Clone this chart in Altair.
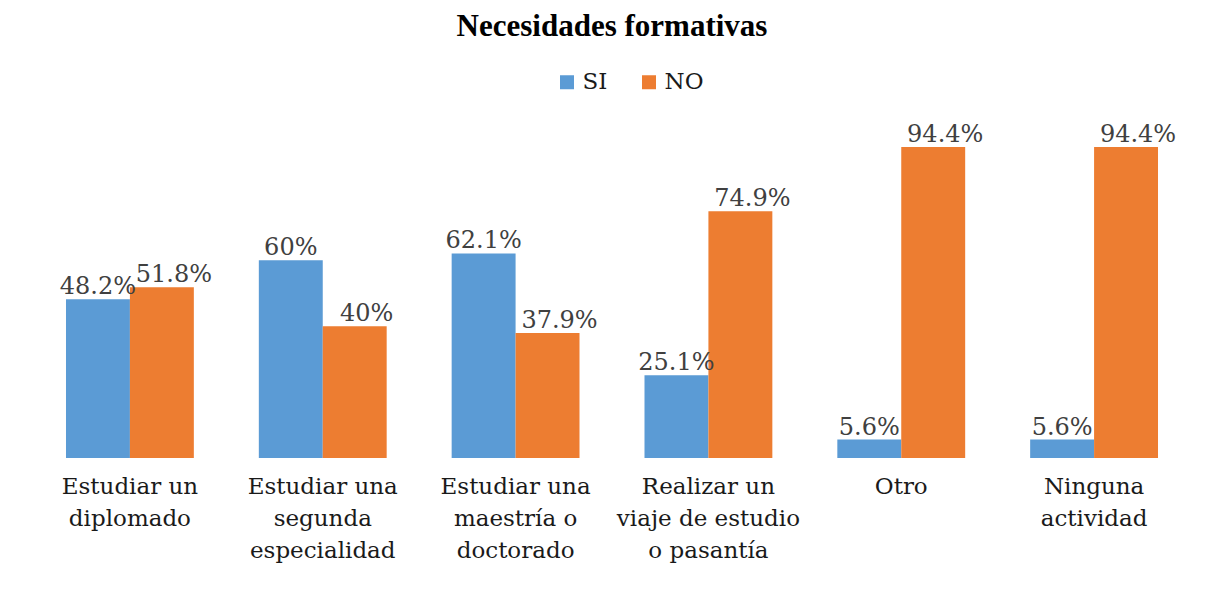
import altair as alt
import pandas as pd

categories = [
    "Estudiar un\ndiplomado",
    "Estudiar una\nsegunda\nespecialidad",
    "Estudiar una\nmaestría o\ndoctorado",
    "Realizar un\nviaje de estudio\no pasantía",
    "Otro",
    "Ninguna\nactividad",
]
series = ["SI", "NO"]
si_values = [48.2, 60.0, 62.1, 25.1, 5.6, 5.6]
no_values = [51.8, 40.0, 37.9, 74.9, 94.4, 94.4]
colors = ["#5B9BD5", "#ED7D31"]

rows = []
for c, s_v, n_v in zip(categories, si_values, no_values):
    rows.append({"cat": c, "serie": "SI", "valor": s_v, "etiqueta": f"{s_v:g}%"})
    rows.append({"cat": c, "serie": "NO", "valor": n_v, "etiqueta": f"{n_v:g}%"})
df = pd.DataFrame(rows)

TITLE_FONT = "Liberation Serif"
FONT = "DejaVu Serif"

x_enc = alt.X(
    "cat:N",
    sort=categories,
    title=None,
    scale=alt.Scale(paddingInner=0.337, paddingOuter=0.1685),
    axis=alt.Axis(
        labelExpr="split(datum.label, '\\n')",
        labelAngle=0,
        labelFont=FONT,
        labelFontSize=23,
        labelColor="#1a1a1a",
        labelLineHeight=32,
        labelPadding=17,
        labelBaseline="top",
        labelLimit=400,
        ticks=False,
        domain=False,
        grid=False,
    ),
)
xoff = alt.XOffset("serie:N", sort=series, scale=alt.Scale(paddingInner=0, paddingOuter=0))
y_enc = alt.Y("valor:Q", scale=alt.Scale(domain=[0, 100]), axis=None)

bars = alt.Chart(df).mark_bar().encode(
    x=x_enc,
    xOffset=xoff,
    y=y_enc,
    color=alt.Color(
        "serie:N",
        sort=series,
        scale=alt.Scale(domain=series, range=colors),
        legend=alt.Legend(
            title=None,
            orient="none",
            legendX=522,
            legendY=-58,
            direction="horizontal",
            symbolType="square",
            symbolSize=196,
            symbolStrokeWidth=0,
            labelFont=FONT,
            labelFontSize=23,
            labelColor="#1a1a1a",
            labelOffset=4,
            columnPadding=30,
        ),
    ),
)

label_si = alt.Chart(df).transform_filter("datum.serie == 'SI'").mark_text(
    font=FONT, fontSize=24, color="#404040", baseline="alphabetic", dy=-5
).encode(
    x=alt.X("cat:N", sort=categories),
    xOffset=xoff,
    y=y_enc,
    text="etiqueta:N",
)

label_no = alt.Chart(df).transform_filter("datum.serie == 'NO'").mark_text(
    font=FONT, fontSize=24, color="#404040", baseline="alphabetic", dy=-5, dx=12
).encode(
    x=alt.X("cat:N", sort=categories),
    xOffset=xoff,
    y=y_enc,
    text="etiqueta:N",
)

chart = (
    alt.layer(bars, label_si, label_no)
    .properties(
        width=1157,
        height=329.5,
        autosize=alt.AutoSizeParams(type="none"),
        padding={"left": 25.5, "top": 120.5, "right": 10, "bottom": 120},
        title=alt.TitleParams(
            "Necesidades formativas",
            font=TITLE_FONT,
            fontSize=31,
            fontWeight="bold",
            color="#000000",
            anchor="middle",
            offset=28,
        ),
    )
    .configure(background="white", view=alt.ViewConfig(strokeWidth=0, stroke="transparent"))
)

chart.save("out.html", embed_options={"renderer": "svg", "actions": False})
